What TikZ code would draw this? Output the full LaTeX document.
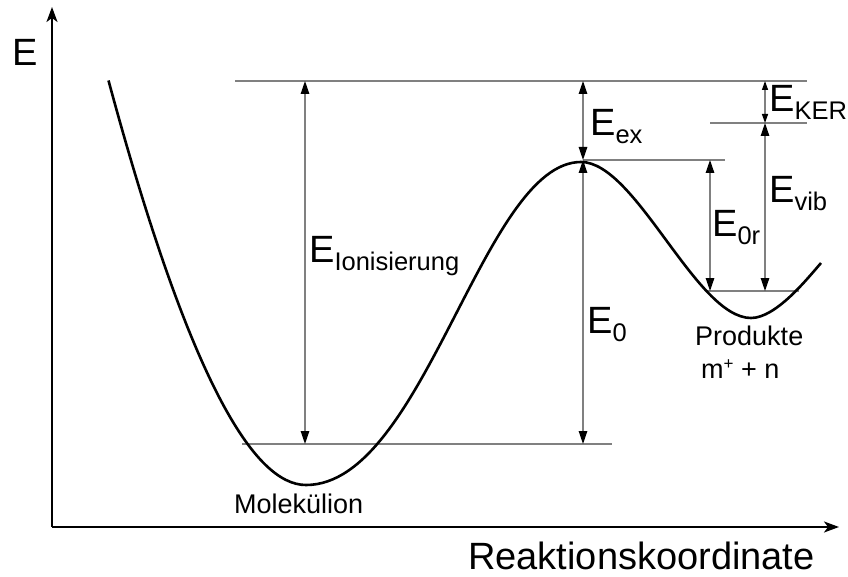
\documentclass[tikz,border=0pt]{standalone}
\usepackage{fontspec}
\setmainfont{Liberation Sans}
\usetikzlibrary{arrows.meta}
\definecolor{lvlgray}{RGB}{128,128,128}
\newcommand\ELab[1]{{\fontsize{38}{40}\selectfont E}\raisebox{-8pt}{\fontsize{25.5}{27}\selectfont #1}}
\begin{document}
\begin{tikzpicture}[x=1pt,y=-1pt,
  level/.style={draw=lvlgray,line width=1.5pt},
  darrow/.style={draw=lvlgray,line width=1.3pt,
    {Triangle[length=13pt,width=8.5pt,color=black]}-{Triangle[length=13pt,width=8.5pt,color=black]}},
  axis/.style={line width=2pt,-{Stealth[length=15pt,width=11pt,inset=4pt]}},
  pot/.style={line width=2.6pt,line join=round},
  lab/.style={inner sep=0pt,anchor=base west}]
\useasboundingbox (0,0) rectangle (848,577);
% axes
\coordinate (O) at (52,527);
\coordinate (Ytip) at (52,7);
\coordinate (Xtip) at (839,527);
\draw[axis] (O) -- (Ytip);
\draw[axis] (O) -- (Xtip);
\node[lab] (Eaxis) at (12,66) {\fontsize{38}{40}\selectfont E};
\node[lab] (Raxis) at (468,569) {\fontsize{38}{40}\selectfont Reaktionskoordinate};
% levels
\coordinate (topL) at (235,81);   \coordinate (topR) at (807,81);
\coordinate (kerL) at (710,123);  \coordinate (kerR) at (807,123);
\coordinate (barL) at (583,160);  \coordinate (barR) at (725,160);
\coordinate (proL) at (706,291);  \coordinate (proR) at (799,291);
\coordinate (molL) at (242,444);  \coordinate (molR) at (612,444);
\draw[level] (topL) -- (topR);
\draw[level] (kerL) -- (kerR);
\draw[level] (barL) -- (barR);
\draw[level] (proL) -- (proR);
\draw[level] (molL) -- (molR);
% potential curve
\coordinate (c0) at (108.5,80.5);
\coordinate (cmin1) at (306,485);
\coordinate (cpeak) at (581,162);
\coordinate (cmin2) at (751,318);
\coordinate (cend) at (821,263);
\draw[pot] (c0) .. controls (189.5,380.5) and (254,485) .. (cmin1)
  .. controls (424,485) and (483,162) .. (cpeak)
  .. controls (636,162) and (696,318) .. (cmin2)
  .. controls (776,318) and (807,279) .. (cend);
% double arrows
\coordinate (ionT) at (305,81);  \coordinate (ionB) at (305,444);
\coordinate (exT)  at (583,81);  \coordinate (exB)  at (583,160);
\coordinate (e0T)  at (583,160); \coordinate (e0B)  at (583,444);
\coordinate (e0rT) at (710,160); \coordinate (e0rB) at (710,291);
\coordinate (kerT) at (765,81);  \coordinate (kerB) at (765,123);
\coordinate (vibT) at (765,123); \coordinate (vibB) at (765,291);
\draw[darrow] (ionB) -- (ionT);
\draw[darrow] (exB) -- (exT);
\draw[darrow] (e0B) -- (e0T);
\draw[darrow] (e0rB) -- (e0rT);
\draw[darrow,{Triangle[length=9pt,width=6pt,color=black]}-{Triangle[length=9pt,width=6pt,color=black]}] (kerB) -- (kerT);
\draw[darrow] (vibB) -- (vibT);
% labels
\node[lab] (Lion) at (309,262) {\ELab{Ionisierung}};
\node[lab] (Lex)  at (590,136) {\ELab{ex}};
\node[lab] (L0)   at (587,333) {\ELab{0}};
\node[lab] (L0r)  at (712,237) {\ELab{0r}};
\node[lab] (Lker) at (769,112) {\ELab{KER}};
\node[lab] (Lvib) at (769,203) {\ELab{vib}};
\node[lab] (Lmol) at (234,513) {\fontsize{27}{29}\selectfont Molekülion};
\node[lab] (Lpro) at (695,345) {\fontsize{27}{29}\selectfont Produkte};
\node[lab] (Lmn)  at (701,378) {\fontsize{27}{29}\selectfont m\raisebox{9pt}{\fontsize{17}{19}\selectfont +} + n};
\end{tikzpicture}
\end{document}
